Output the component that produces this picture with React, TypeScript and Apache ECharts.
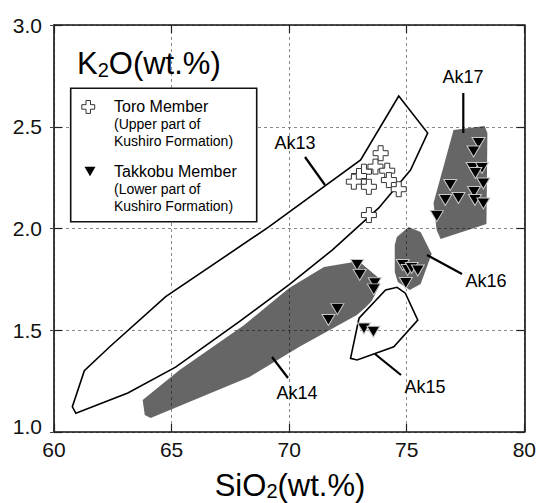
import React, { useEffect, useRef } from "react";
import * as echarts from "echarts";

const FONT = "'Liberation Sans', Arial, Helvetica, sans-serif";

const xTicks = [60, 65, 70, 75, 80];
const yTicks = [1.0, 1.5, 2.0, 2.5, 3.0];

// Field outlines (SiO2, K2O)
const ak13: number[][] = [
  [74.66, 2.651], [75.89, 2.469], [75.16, 2.287], [73.81, 2.101], [71.83, 1.894],
  [70.0, 1.724], [67.88, 1.542], [65.17, 1.319], [63.14, 1.192], [60.93, 1.092],
  [60.78, 1.124], [61.29, 1.301], [62.37, 1.419], [64.75, 1.665], [69.15, 2.009],
  [73.04, 2.337],
];
const ak14: number[][] = [
  [63.77, 1.157], [63.86, 1.084], [64.11, 1.069], [68.31, 1.27], [70.42, 1.418],
  [72.88, 1.575], [73.47, 1.634], [73.81, 1.713], [73.81, 1.757], [73.05, 1.83],
  [72.75, 1.835], [71.48, 1.811], [70.0, 1.708], [68.09, 1.526], [65.34, 1.305],
];
const ak15: number[][] = [
  [72.61, 1.362], [72.97, 1.559], [74.1, 1.698], [74.59, 1.711], [74.94, 1.682],
  [75.47, 1.55], [74.45, 1.419], [72.89, 1.354],
];
const ak16: number[][] = [
  [74.58, 1.958], [75.08, 2.007], [75.59, 1.983], [76.06, 1.875], [75.59, 1.727],
  [75.13, 1.698], [74.62, 1.737], [74.49, 1.786], [74.49, 1.919],
];
const ak17: number[][] = [
  [76.99, 2.484], [78.31, 2.504], [78.43, 2.469], [78.39, 2.022], [76.44, 1.948],
  [76.27, 1.993], [76.14, 2.125],
];

// Toro Member (upper part of Kushiro Formation)
const toro: number[][] = [
  [73.89, 2.37], [73.67, 2.304], [73.18, 2.279], [74.17, 2.284], [72.97, 2.258],
  [72.75, 2.23], [73.39, 2.205], [74.24, 2.238], [74.66, 2.193], [73.39, 2.066],
];

// Takkobu Member (lower part of Kushiro Formation)
const takkobuAk17: number[][] = [
  [78.05, 2.42], [77.84, 2.378], [77.8, 2.297], [78.2, 2.297], [77.92, 2.273],
  [78.26, 2.221], [76.85, 2.214], [76.64, 2.14], [77.2, 2.15], [77.86, 2.179],
  [77.9, 2.14], [78.26, 2.123], [76.28, 2.061],
];
const takkobuAk16: number[][] = [
  [74.83, 1.821], [75.04, 1.796], [75.21, 1.806], [75.47, 1.794], [74.96, 1.732],
];
const takkobuAk14: number[][] = [
  [72.89, 1.821], [73.0, 1.772], [73.64, 1.731], [73.6, 1.701], [72.05, 1.604],
  [71.67, 1.55],
];
const takkobuAk15: number[][] = [
  [73.18, 1.509], [73.58, 1.493],
];

const CROSS = "path://M5,0H10V5H15V10H10V15H5V10H0V5H5Z";

function polygonSeries(name: string, pts: number[][], fill: string, outlined: boolean, z: number) {
  return {
    type: "custom",
    name,
    coordinateSystem: "cartesian2d",
    xAxisIndex: 0,
    yAxisIndex: 0,
    silent: true,
    z,
    data: [pts[0]],
    renderItem: (_params: any, api: any) => {
      const points = pts.map((p) => api.coord(p));
      const children: any[] = [];
      if (outlined) {
        children.push({
          type: "polygon",
          shape: { points },
          style: { fill: "rgba(0,0,0,0)", stroke: "#fff", lineWidth: 5, lineJoin: "round" },
        });
        children.push({
          type: "polygon",
          shape: { points },
          style: { fill: "rgba(0,0,0,0)", stroke: "#000", lineWidth: 1.6, lineJoin: "miter" },
        });
      } else {
        children.push({
          type: "polygon",
          shape: { points },
          style: { fill, stroke: "none" },
        });
      }
      return { type: "group", children };
    },
  };
}

function label(text: string, x: number, y: number) {
  return {
    type: "text",
    x,
    y,
    z: 50,
    style: { text, fontSize: 18, fontFamily: FONT, fill: "#000", align: "center", verticalAlign: "middle" },
  };
}
function leader(x1: number, y1: number, x2: number, y2: number) {
  return {
    type: "line",
    z: 50,
    shape: { x1, y1, x2, y2 },
    style: { stroke: "#000", lineWidth: 2.2 },
  };
}

export default function App() {
  const ref = useRef<HTMLDivElement>(null);
  useEffect(() => {
    document.body.style.margin = "0";
    const chart = echarts.init(ref.current!, undefined, { renderer: "svg" });
    const axisCommon = {
      type: "value",
      axisLine: { show: true, lineStyle: { color: "#111", width: 1.6 } },
      splitLine: { show: false },
    };
    const xBase = { ...axisCommon, min: xTicks[0], max: xTicks[xTicks.length - 1], interval: 5 };
    const yBase = { ...axisCommon, min: yTicks[0], max: yTicks[yTicks.length - 1], interval: 0.5 };

    const option: any = {
      animation: false,
      backgroundColor: "#fff",
      grid: { left: 54, right: 13, top: 25, bottom: 71, containLabel: false },
      xAxis: [
        {
          ...xBase,
          position: "bottom",
          axisTick: { show: true, inside: true, length: 8, lineStyle: { color: "#222", width: 1.2 } },
          axisLabel: { fontSize: 21, fontFamily: FONT, color: "#111", margin: 7 },
          splitLine: { show: true, lineStyle: { color: "#8a8a8a", type: [3, 3], width: 1 } },
        },
        {
          ...xBase,
          position: "top",
          axisTick: { show: true, inside: true, length: 8, lineStyle: { color: "#222", width: 1.2 } },
          axisLabel: { show: false },
        },
      ],
      yAxis: [
        {
          ...yBase,
          position: "left",
          axisTick: { show: true, inside: false, length: 4, lineStyle: { color: "#444", width: 1 } },
          axisLabel: {
            fontSize: 21,
            fontFamily: FONT,
            color: "#111",
            margin: 12,
            formatter: (v: number) => (v === 1 ? "{lo|1.0}" : v.toFixed(1)),
            rich: { lo: { fontSize: 21, fontFamily: FONT, color: "#111", padding: [0, 0, 12, 0] } },
          },
          splitLine: { show: true, lineStyle: { color: "#8a8a8a", type: [3, 3], width: 1 } },
        },
        {
          ...yBase,
          position: "left",
          axisLine: { show: false },
          axisTick: { show: true, inside: true, length: 8, lineStyle: { color: "#222", width: 1.2 } },
          axisLabel: { show: false },
        },
        {
          ...yBase,
          position: "right",
          axisTick: { show: true, inside: true, length: 8, lineStyle: { color: "#222", width: 1.2 } },
          axisLabel: { show: false },
        },
      ],
      series: [
        polygonSeries("Ak14", ak14, "rgba(0,0,0,0.6)", false, 2),
        polygonSeries("Ak16", ak16, "rgba(0,0,0,0.6)", false, 2),
        polygonSeries("Ak17", ak17, "rgba(0,0,0,0.6)", false, 2),
        polygonSeries("Ak13", ak13, "", true, 3),
        polygonSeries("Ak15", ak15, "", true, 3),
        {
          type: "scatter",
          name: "Takkobu Member",
          z: 5,
          symbol: "triangle",
          symbolRotate: 180,
          symbolSize: [13, 11],
          itemStyle: { color: "#000", borderColor: "#c8c8c8", borderWidth: 1, opacity: 1 },
          data: [...takkobuAk14, ...takkobuAk15, ...takkobuAk16, ...takkobuAk17],
        },
        {
          type: "scatter",
          name: "Toro Member",
          z: 6,
          symbol: CROSS,
          symbolSize: 15,
          itemStyle: { color: "#fff", borderColor: "#333", borderWidth: 1, opacity: 1 },
          data: toro,
        },
      ],
      graphic: [
        {
          type: "text",
          x: 77,
          y: 63,
          z: 50,
          style: {
            text: "{a|K}{b|2}{a|O(wt.%)}",
            fontFamily: FONT,
            fill: "#000",
            verticalAlign: "middle",
            rich: {
              a: { fontSize: 31, fontFamily: FONT, fill: "#000" },
              b: { fontSize: 20, fontFamily: FONT, fill: "#000", padding: [14, 0, 0, 0] },
            },
          },
        },
        {
          type: "text",
          x: 290,
          y: 485,
          z: 50,
          style: {
            text: "{a|SiO}{b|2}{a|(wt.%)}",
            fontFamily: FONT,
            fill: "#000",
            align: "center",
            verticalAlign: "middle",
            rich: {
              a: { fontSize: 31, fontFamily: FONT, fill: "#000" },
              b: { fontSize: 20, fontFamily: FONT, fill: "#000", padding: [12, 0, 0, 0] },
            },
          },
        },
        {
          type: "rect",
          z: 40,
          shape: { x: 70.7, y: 88.3, width: 186, height: 133.4 },
          style: { fill: "#fff", stroke: "#111", lineWidth: 1.6 },
        },
        {
          type: "polygon",
          z: 41,
          shape: {
            points: [
              [86, 100.5], [90.5, 100.5], [90.5, 104.7], [94.7, 104.7], [94.7, 109.2], [90.5, 109.2],
              [90.5, 113.4], [86, 113.4], [86, 109.2], [81.8, 109.2], [81.8, 104.7], [86, 104.7],
            ],
          },
          style: { fill: "#fff", stroke: "#333", lineWidth: 1 },
        },
        {
          type: "polygon",
          z: 41,
          shape: { points: [[84.5, 166.8], [95.5, 166.8], [90, 176.2]] },
          style: { fill: "#000", stroke: "none" },
        },
        ...[
          ["Toro Member", 106.7, 16],
          ["(Upper part of", 123.5, 14],
          ["Kushiro Formation)", 141, 14],
          ["Takkobu Member", 171.7, 16],
          ["(Lower part of", 188.5, 14],
          ["Kushiro Formation)", 206, 14],
        ].map(([t, y, fs]) => ({
          type: "text",
          x: 114,
          y: y as number,
          z: 42,
          style: {
            text: t as string,
            fontSize: fs as number,
            fontFamily: FONT,
            fill: "#000",
            align: "left",
            verticalAlign: "middle",
          },
        })),
        label("Ak13", 295, 143),
        leader(305, 157, 325, 185),
        label("Ak17", 463, 77),
        leader(463.3, 93, 463.3, 133),
        label("Ak16", 486, 281),
        leader(427, 255, 462, 274),
        label("Ak15", 425, 387),
        leader(375, 354, 401, 375),
        label("Ak14", 297, 393),
        leader(272, 357, 288, 378),
      ],
    };
    chart.setOption(option);
    return () => chart.dispose();
  }, []);
  return <div ref={ref} style={{ width: 539, height: 503 }} />;
}
